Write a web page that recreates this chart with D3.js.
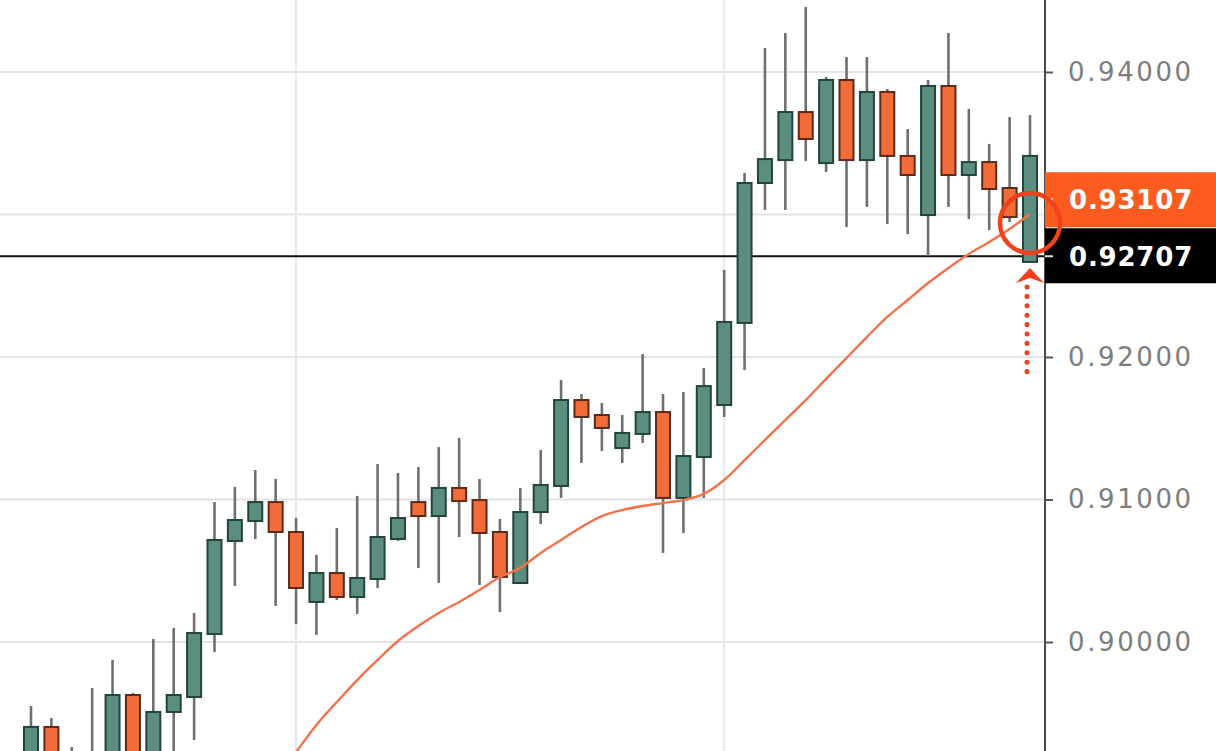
<!DOCTYPE html>
<html><head><meta charset="utf-8">
<script src="https://cdn.jsdelivr.net/npm/d3@7"></script>
<style>html,body{margin:0;padding:0;background:#fff;overflow:hidden}</style>
</head><body>
<svg id="chart" width="1216" height="751"></svg>
<script>
// ---- data ----
const opens = [0.89102,0.89404,0.89067,0.89102,0.89137,0.89628,0.89172,0.89509,0.89614,0.90056,
0.90709,0.90849,0.90982,0.90772,0.90281,0.90484,0.90316,0.90442,0.90723,0.90982,
0.90884,0.91081,0.90996,0.90772,0.90414,0.90912,0.91095,0.91698,0.91593,0.91361,
0.91460,0.91614,0.91011,0.91298,0.91663,0.92239,0.93221,0.93382,0.93719,0.93361,
0.93944,0.93382,0.93860,0.93411,0.92996,0.93902,0.93277,0.93368,0.93186,0.92667];
const highs = [0.89551,0.89467,0.89263,0.89677,0.89874,0.89642,0.90021,0.90098,0.90204,0.90982,
0.91088,0.91207,0.91144,0.90870,0.90611,0.90800,0.91025,0.91249,0.91186,0.91228,
0.91368,0.91432,0.91144,0.90863,0.91081,0.91347,0.91839,0.91740,0.91677,0.91593,
0.92021,0.91740,0.91754,0.91923,0.92611,0.93291,0.94168,0.94274,0.94456,0.93965,
0.94105,0.94105,0.93881,0.93600,0.93944,0.94274,0.93740,0.93495,0.93684,0.93698];
const lows = [0.89032,0.89032,0.88990,0.89000,0.89067,0.89102,0.89102,0.89137,0.89312,0.89930,
0.90393,0.90723,0.90253,0.90126,0.90049,0.90295,0.90197,0.90379,0.90709,0.90519,
0.90414,0.90737,0.90400,0.90211,0.90407,0.90828,0.91011,0.91256,0.91340,0.91256,
0.91397,0.90625,0.90765,0.91011,0.91579,0.91909,0.93032,0.93032,0.93375,0.93298,
0.92912,0.93053,0.92933,0.92863,0.92709,0.93053,0.92968,0.92891,0.92947,0.92667];
const closes = [0.89404,0.89137,0.89172,0.89207,0.89628,0.89172,0.89509,0.89628,0.90063,0.90716,
0.90856,0.90982,0.90772,0.90379,0.90484,0.90316,0.90449,0.90737,0.90870,0.90884,
0.91081,0.90989,0.90765,0.90456,0.90912,0.91102,0.91698,0.91579,0.91502,0.91467,
0.91614,0.91011,0.91305,0.91796,0.92246,0.93221,0.93389,0.93719,0.93530,0.93944,
0.93382,0.93860,0.93411,0.93277,0.93902,0.93277,0.93368,0.93179,0.92982,0.93411];
const maValues = [null,null,null,null,null,null,null,null,null,null,null,null,
0.89039,0.89228,0.89418,0.89579,0.89733,0.89874,0.90007,0.90112,0.90204,0.90281,
0.90365,0.90456,0.90520,0.90625,0.90716,0.90807,0.90884,0.90926,0.90954,0.90975,
0.90996,0.91039,0.91137,0.91277,0.91418,0.91558,0.91698,0.91846,0.91993,0.92140,
0.92281,0.92400,0.92519,0.92625,0.92723,0.92807,0.92898,0.93004];
const priceTicks = [0.90, 0.91, 0.92, 0.93, 0.94];
const hiddenTickLabels = [0.93];
const timeGridIndex = [13, 34];
const maLabelValue = 0.93107;
const levelValue = 0.92707;
const circleValue = 0.9294;

// ---- layout ----
const W = 1216, H = 751, axisX = 1045;
const svg = d3.select('#chart');
const x = d3.scaleLinear().domain([0, opens.length - 1]).range([31, 1030]);
const y = d3.scaleLinear().domain([0.90, 0.94]).range([642, 72]);
const bodyW = 14;

svg.append('rect').attr('width', W).attr('height', H).attr('fill', '#fff');
svg.append('defs').append('clipPath').attr('id', 'plot')
  .append('rect').attr('x', 0).attr('y', 0).attr('width', axisX).attr('height', H);

const plot = svg.append('g').attr('clip-path', 'url(#plot)');

// grid
plot.selectAll('.hg').data(priceTicks).enter().append('line')
  .attr('x1', 0).attr('x2', axisX).attr('y1', d => y(d)).attr('y2', d => y(d))
  .attr('stroke', '#e4e4e4').attr('stroke-width', 2);
plot.selectAll('.vg').data(timeGridIndex).enter().append('line')
  .attr('x1', d => x(d)).attr('x2', d => x(d)).attr('y1', 0).attr('y2', H)
  .attr('stroke', '#e8e8e8').attr('stroke-width', 2);

// horizontal level line
plot.append('line').attr('x1', 0).attr('x2', axisX)
  .attr('y1', y(levelValue)).attr('y2', y(levelValue))
  .attr('stroke', '#111').attr('stroke-width', 2.2);

const candles = opens.map((o, i) => ({i, o, h: highs[i], l: lows[i], c: closes[i]}));

// wicks
plot.selectAll('.wick').data(candles).enter().append('line')
  .attr('x1', d => x(d.i)).attr('x2', d => x(d.i))
  .attr('y1', d => y(d.h)).attr('y2', d => y(d.l))
  .attr('stroke', '#6f6f6f').attr('stroke-width', 2.6);

// bodies
plot.selectAll('.body').data(candles).enter().append('rect')
  .attr('x', d => x(d.i) - bodyW / 2)
  .attr('y', d => y(Math.max(d.o, d.c)))
  .attr('width', bodyW)
  .attr('height', d => Math.max(2, Math.abs(y(d.o) - y(d.c))))
  .attr('fill', d => d.c >= d.o ? '#5b8e80' : '#f26c3a')
  .attr('stroke', d => d.c >= d.o ? '#23443b' : '#5a2b1c')
  .attr('stroke-width', 2);

// moving average
const maLine = d3.line()
  .defined(d => d != null)
  .x((d, i) => x(i)).y(d => y(d))
  .curve(d3.curveCatmullRom.alpha(0.5));
plot.append('path').datum(maValues).attr('d', maLine)
  .attr('fill', 'none').attr('stroke', '#f3714b').attr('stroke-width', 2.4);

// axis
const axis = d3.axisRight(y).tickValues(priceTicks).tickFormat(d3.format('.5f')).tickSize(8).tickPadding(15);
const ag = svg.append('g').attr('transform', `translate(${axisX},0)`).call(axis);
ag.select('.domain').remove();
ag.selectAll('.tick line').attr('stroke', '#555').attr('stroke-width', 2);
ag.selectAll('.tick text').attr('fill', '#7d7d7d')
  .style('font-family', 'DejaVu Sans, sans-serif').style('font-size', '26px')
  .style('letter-spacing', '2.6px');
ag.selectAll('.tick').filter(d => hiddenTickLabels.includes(d)).select('text').remove();
svg.append('line').attr('x1', axisX).attr('x2', axisX).attr('y1', 0).attr('y2', H)
  .attr('stroke', '#4a4a4a').attr('stroke-width', 2);

// price labels
const labels = [
  {v: maLabelValue, bg: '#fd5b1f'},
  {v: levelValue, bg: '#000'}
];
const lg = svg.selectAll('.plabel').data(labels).enter().append('g')
  .attr('transform', d => `translate(${axisX},${y(d.v)})`);
lg.append('rect').attr('x', 0).attr('y', (d, i) => i === 0 ? -27 : -28)
  .attr('width', W - axisX).attr('height', 55).attr('fill', d => d.bg);
lg.append('line').attr('x1', 0).attr('x2', 8).attr('y1', 0).attr('y2', 0)
  .attr('stroke', '#ddd').attr('stroke-width', 2);
lg.append('text').attr('x', 24).attr('dy', '0.36em')
  .attr('fill', '#fff').style('font-family', 'DejaVu Sans, sans-serif')
  .style('font-size', '26px').style('font-weight', 'bold').style('letter-spacing', '0.8px')
  .text(d => d3.format('.5f')(d.v));

// annotation: circle and dotted arrow at the last candle
const lastI = opens.length - 1;
const ax = x(lastI);
svg.append('circle').attr('cx', ax).attr('cy', y(circleValue)).attr('r', 30)
  .attr('fill', 'none').attr('stroke', '#f0401c').attr('stroke-width', 4.5);
const tipY = y(lows[lastI]) + 6;
svg.append('path')
  .attr('d', `M${ax},${tipY} L${ax + 14},${tipY + 15} L${ax},${tipY + 10} L${ax - 14},${tipY + 15} Z`)
  .attr('fill', '#f0401c');
svg.append('line').attr('x1', ax - 3).attr('x2', ax - 3)
  .attr('y1', tipY + 19).attr('y2', tipY + 112)
  .attr('stroke', '#f0401c').attr('stroke-width', 5)
  .attr('stroke-linecap', 'round').attr('stroke-dasharray', '0.1 9.3');
</script>
</body></html>
